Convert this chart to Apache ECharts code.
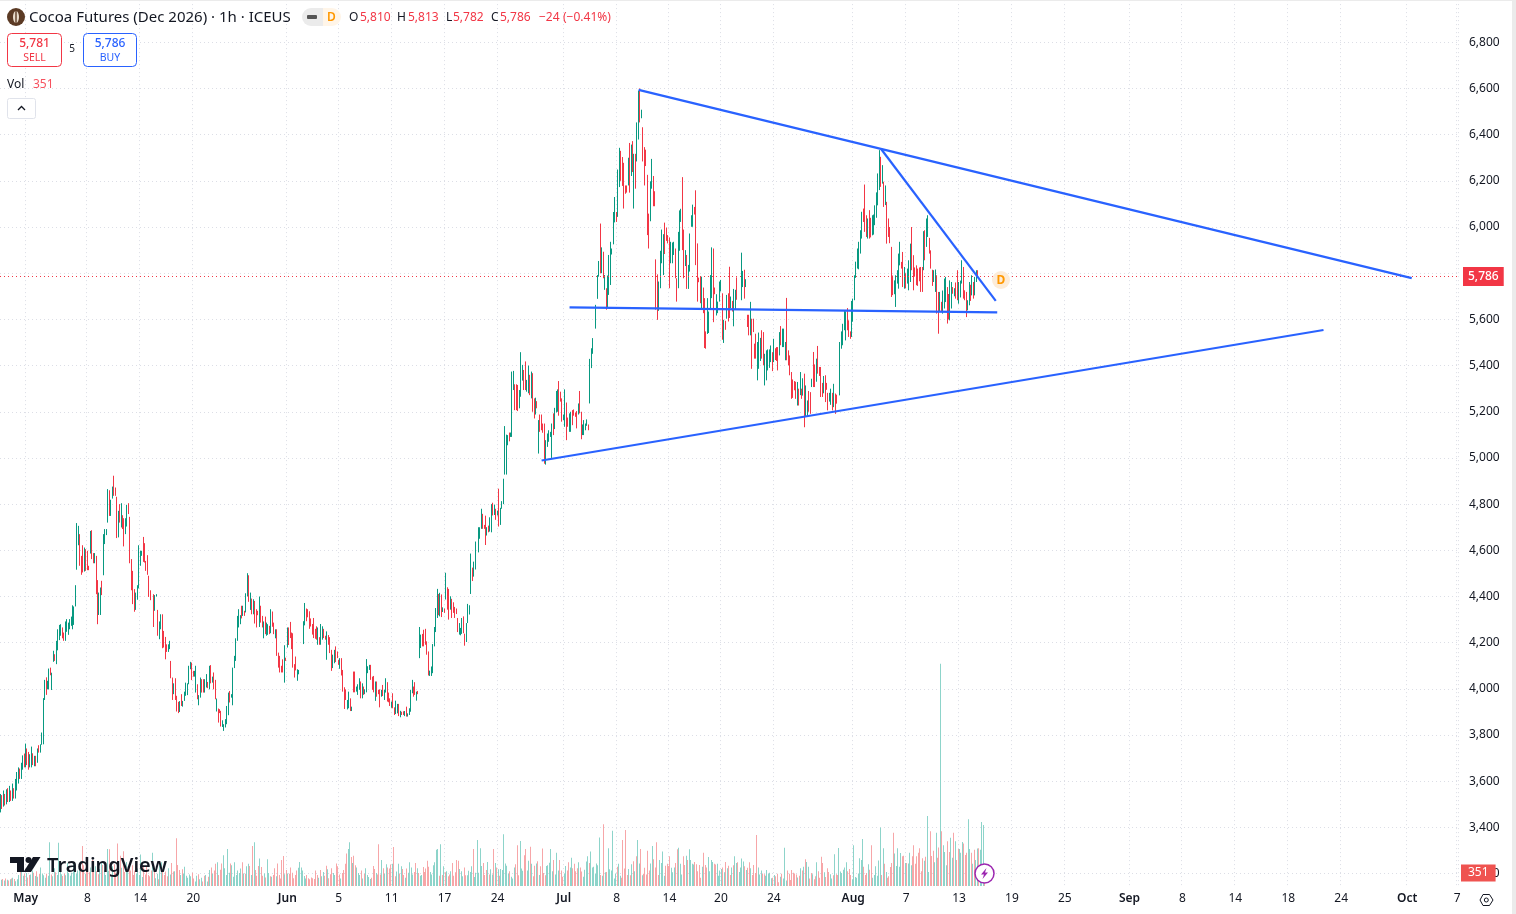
<!DOCTYPE html>
<html><head><meta charset="utf-8"><style>html,body{margin:0;padding:0;background:#fff}#c{width:1516px;height:914px}</style>
<script src="https://cdn.jsdelivr.net/npm/echarts@6/dist/echarts.min.js"></script></head><body><div id="c"></div>
<script>
// rows: [open, close, low, high]
const startBars=[[3480,3530,3465,3545],[3520,3490,3480,3540],[3500,3540,3490,3560],[3530,3505,3495,3545],[3510,3545,3500,3565],[3540,3520,3510,3570],[3520,3550,3510,3580],[3545,3525,3515,3560],[3525,3560,3515,3590],[3555,3530,3525,3570],[3535,3570,3525,3610],[3570,3600,3560,3640],[3600,3640,3590,3660],[3640,3620,3610,3655],[3625,3660,3610,3680]];
const mayA=[[3670,3700,3650,3712],[3710,3680,3660,3720],[3680,3745,3660,3763],[3730,3690,3670,3742],[3715,3670,3650,3727],[3670,3705,3660,3717],[3680,3735,3660,3750],[3715,3680,3670,3721],[3680,3700,3665,3710],[3700,3675,3665,3710],[3690,3730,3680,3742],[3750,3730,3724,3756],[3730,3755,3724,3760],[3765,3800,3758,3811],[3780,3945,3760,3960],[3965,4025,3952,4039],[4030,3990,3974,4050],[4005,4025,3998,4035],[4010,4075,3998,4088],[4085,4065,4059,4092],[4005,4060,3995,4070],[4125,4155,4117,4165],[4145,4128,4121,4150],[4120,4195,4107,4208],[4180,4245,4167,4258],[4225,4265,4211,4277],[4240,4270,4230,4280],[4258,4228,4219,4266],[4238,4215,4208,4244],[4220,4280,4208,4292],[4255,4295,4247,4302],[4245,4280,4234,4287],[4265,4295,4258,4302],[4280,4305,4273,4313],[4270,4350,4258,4362],[4290,4350,4277,4357],[4365,4440,4357,4449],[4540,4700,4516,4718],[4630,4695,4622,4706],[4650,4555,4533,4670],[4565,4505,4494,4576],[4610,4515,4504,4622],[4520,4600,4508,4612],[4595,4520,4511,4605],[4585,4525,4514,4598],[4530,4518,4514,4533],[4595,4675,4586,4684],[4680,4575,4562,4687],[4585,4550,4544,4588],[4550,4585,4544,4588],[4570,4420,4410,4576],[4460,4295,4280,4471],[4330,4410,4320,4417],[4330,4430,4320,4439],[4460,4415,4406,4468],[4500,4660,4492,4670],[4635,4685,4627,4692],[4670,4688,4666,4692],[4730,4855,4720,4865],[4850,4755,4749,4860],[4755,4810,4749,4819],[4830,4870,4824,4876],[4910,4845,4836,4923],[4865,4842,4836,4872],[4825,4665,4653,4832],[4665,4760,4656,4771],[4790,4730,4720,4800],[4710,4795,4699,4804],[4745,4700,4692,4752],[4730,4625,4617,4739],[4680,4730,4670,4739],[4712,4790,4703,4797],[4798,4765,4757,4804],[4735,4555,4544,4745],[4555,4435,4427,4562],[4500,4375,4367,4511],[4425,4342,4334,4432],[4350,4410,4342,4417],[4392,4442,4386,4449],[4445,4612,4435,4622],[4540,4590,4533,4598],[4580,4592,4576,4598],[4650,4560,4550,4658],[4625,4555,4547,4631],[4548,4518,4511,4554],[4570,4500,4494,4579],[4482,4405,4398,4490],[4420,4390,4384,4427]];
const mayB=[[4400,4278,4268,4410],[4346,4398,4338,4406],[4402,4408,4400,4410],[4335,4238,4230,4342],[4225,4285,4215,4292],[4268,4315,4258,4323],[4315,4185,4176,4323],[4245,4188,4179,4251],[4218,4136,4128,4225],[4188,4165,4160,4193],[4165,4188,4160,4193],[4178,4202,4172,4208],[4115,4052,4046,4121],[4042,3960,3952,4049],[3985,4016,3977,4024],[4040,3960,3952,4046],[3965,3908,3902,3970],[3938,3900,3895,3944],[3906,3940,3900,3947],[3970,3932,3926,3977],[3928,3943,3923,3948],[3955,3982,3948,3988],[3978,4020,3970,4027],[3980,4018,3973,4024],[4030,4092,4020,4100],[4092,4110,4085,4117],[4108,4046,4038,4114],[4072,4058,4053,4078],[4058,4072,4053,4078],[3994,4090,3984,4100],[4014,3962,3955,4020],[3935,3966,3929,3973],[3970,4042,3962,4049],[4035,3992,3984,4042],[4035,3990,3984,4042],[3992,4034,3984,4042],[4014,4056,4006,4064],[4025,4008,4003,4030],[4008,4092,3998,4100],[4096,4032,4024,4103],[4032,4048,4027,4053],[4064,4004,3998,4071],[4032,3962,3955,4039],[3908,3952,3902,3958],[3908,3860,3854,3915],[3908,3900,3895,3912],[3898,3844,3837,3905],[3840,3860,3835,3864],[3824,3842,3818,3847],[3838,3864,3833,3869],[3852,3920,3847,3926],[3892,3978,3886,3984],[3984,3948,3941,3991],[3965,3972,3962,3977],[3936,4085,3929,4092],[4096,4136,4090,4143],[4128,4212,4121,4219],[4214,4308,4208,4316],[4272,4338,4266,4345],[4286,4312,4280,4319],[4352,4312,4305,4360],[4322,4352,4316,4360],[4332,4322,4316,4338],[4338,4408,4331,4414],[4408,4494,4400,4501],[4486,4384,4377,4492],[4348,4410,4342,4417],[4385,4330,4323,4391],[4330,4382,4323,4388],[4375,4290,4283,4381],[4338,4272,4266,4345],[4332,4324,4319,4338],[4275,4392,4268,4400],[4354,4294,4287,4360],[4310,4272,4266,4316],[4226,4285,4219,4292],[4306,4244,4237,4313],[4236,4280,4230,4287],[4240,4278,4234,4280],[4267,4242,4237,4273],[4248,4338,4241,4345],[4328,4275,4269,4335],[4280,4242,4237,4287],[4225,4252,4219,4258],[4252,4150,4143,4258],[4150,4098,4092,4157],[4136,4078,4071,4143],[4094,4077,4071,4100],[4122,4078,4071,4128],[4034,4182,4027,4189],[4130,4126,4121,4135],[4186,4258,4179,4266],[4258,4200,4190,4266],[4270,4230,4220,4290],[4238,4180,4172,4244],[4234,4098,4092,4241],[4100,4055,4049,4107],[4120,4090,4080,4140],[4042,4078,4035,4085],[4068,4076,4063,4082]];
const junA=[[4200,4286,4194,4293],[4282,4365,4275,4372],[4342,4300,4293,4348],[4340,4318,4310,4345],[4330,4266,4260,4336],[4300,4275,4270,4305],[4275,4242,4235,4281],[4300,4228,4220,4307],[4255,4224,4217,4260],[4265,4220,4213,4271],[4198,4258,4191,4266],[4218,4198,4191,4224],[4198,4274,4191,4281],[4220,4265,4213,4271],[4254,4226,4220,4260],[4225,4218,4213,4230],[4132,4242,4126,4249],[4227,4197,4191,4233],[4218,4162,4155,4224],[4162,4085,4078,4169],[4096,4142,4090,4148],[4118,4162,4111,4169],[4178,4122,4116,4184],[4156,4140,4133,4162],[4120,4110,4104,4126],[4094,4127,4087,4133],[4127,4064,4058,4133],[4076,3994,3988,4082],[4000,3920,3913,4007],[3992,3958,3952,3998],[3918,3946,3911,3952],[3922,3982,3916,3988],[3952,3910,3904,3959],[3910,3918,3904,3923],[4068,3992,3985,4075],[4068,3992,3985,4075],[3994,4004,3988,4010],[3980,4014,3974,4020],[4002,4040,3996,4046],[4026,3965,3959,4032],[3965,4018,3959,4024],[4004,3980,3974,4010],[3982,3994,3977,3998],[3992,4122,3985,4129],[4074,4092,4068,4098],[4088,4098,4082,4104],[4098,4045,4039,4104],[4047,4002,3996,4053],[4050,3992,3985,4056],[3954,4026,3948,4032],[4026,3972,3966,4032],[3990,3982,3977,3996],[3990,3926,3920,3998],[3972,3990,3966,3996],[4010,3975,3969,4017],[3958,3990,3952,3996],[3990,4040,3984,4046],[4022,3952,3945,4029],[3978,3948,3942,3984],[3952,3932,3926,3959],[3924,3940,3918,3945],[3975,3922,3916,3981],[3914,3893,3887,3920],[3897,3943,3891,3949],[3900,3929,3894,3935],[3928,3888,3882,3935],[3883,3900,3877,3905],[3896,3892,3887,3901],[3898,3892,3887,3903],[3888,3898,3882,3904],[3916,3886,3880,3923],[3885,3890,3880,3894],[3892,3910,3887,3916],[3907,3990,3901,3996],[3987,4032,3981,4039],[4004,3972,3966,4010],[4022,3980,3974,4029],[3955,3982,3949,3988],[3986,3982,3977,3991]];
const junB=[[4139,4260,4133,4268],[4183,4228,4177,4235],[4230,4190,4184,4238],[4250,4190,4184,4256],[4254,4197,4191,4260],[4200,4154,4148,4206],[4156,4064,4058,4162],[4062,4073,4056,4079],[4062,4090,4056,4097],[4074,4188,4068,4194],[4190,4260,4184,4268],[4252,4344,4246,4350],[4313,4426,4307,4433],[4404,4325,4319,4411],[4320,4410,4314,4416],[4402,4317,4311,4409],[4339,4348,4333,4353],[4342,4336,4329,4348],[4393,4496,4387,4503],[4434,4349,4343,4440],[4426,4306,4300,4433],[4349,4395,4343,4401],[4384,4313,4307,4390],[4369,4335,4329,4375],[4349,4313,4307,4355],[4342,4330,4324,4348],[4301,4252,4246,4307],[4241,4279,4235,4285],[4238,4258,4232,4264],[4244,4300,4238,4307],[4308,4247,4241,4314],[4233,4193,4187,4239],[4209,4279,4203,4285],[4291,4362,4285,4368],[4328,4356,4322,4362],[4417,4580,4411,4586],[4519,4473,4467,4525],[4492,4545,4486,4551],[4523,4632,4517,4638]];
const julA=[[4597,4692,4591,4700],[4656,4694,4650,4700],[4699,4774,4693,4780],[4752,4699,4693,4758],[4705,4698,4693,4710],[4744,4629,4623,4750],[4670,4694,4664,4700],[4701,4684,4678,4707],[4687,4737,4681,4743],[4684,4794,4678,4800],[4800,4757,4751,4806],[4759,4792,4753,4798],[4774,4738,4732,4780],[4757,4766,4751,4772],[4861,4709,4703,4867],[4716,4778,4710,4784],[4786,4807,4780,4813],[4806,4904,4800,4910],[4934,5130,4928,5138],[4934,5095,4928,5101],[5061,5093,5055,5099],[5104,5078,5072,5110],[5097,5104,5091,5110],[5097,5368,5091,5374],[5300,5371,5294,5377],[5313,5213,5207,5319],[5313,5213,5207,5319],[5310,5209,5203,5316],[5221,5288,5215,5294],[5271,5452,5265,5458],[5341,5397,5335,5403],[5375,5300,5294,5381],[5412,5300,5294,5418],[5293,5332,5287,5338],[5286,5394,5280,5400],[5354,5278,5272,5360],[5264,5368,5258,5374],[5361,5206,5200,5367],[5252,5177,5171,5258],[5194,5255,5188,5261],[5240,5221,5215,5246],[5025,5158,5019,5164],[5182,5119,5113,5188],[5182,5126,5120,5188],[5143,5115,5109,5149],[5143,4981,4975,5149],[4977,5071,4971,5077],[5054,5100,5048,5106],[5076,5114,5070,5120],[5097,5107,5091,5113],[5006,5143,5000,5149],[5187,5105,5099,5193],[5131,5211,5125,5217],[5203,5284,5197,5290],[5206,5291,5200,5297],[5327,5189,5183,5333],[5281,5250,5244,5287],[5252,5163,5157,5258],[5170,5182,5164,5188],[5141,5291,5135,5297],[5234,5083,5077,5240],[5169,5141,5135,5175],[5119,5187,5113,5193],[5119,5194,5113,5200],[5201,5148,5142,5207],[5204,5189,5183,5210],[5191,5184,5178,5197],[5197,5134,5128,5203],[5194,5230,5188,5236],[5284,5199,5193,5290],[5194,5087,5081,5200],[5105,5139,5099,5145],[5105,5158,5099,5164],[5126,5143,5120,5149],[5145,5161,5139,5167],[5139,5126,5120,5145],[5242,5423,5236,5429],[5395,5469,5389,5475],[5457,5513,5451,5519]];
const julB=[[5566,5657,5560,5663],[5695,5786,5689,5792],[5791,5847,5785,5853],[6009,5806,5800,6015],[5806,5906,5800,5912],[5887,5784,5778,5893],[5734,5786,5728,5792],[5729,5648,5642,5735],[5680,5760,5650,5790],[5712,5873,5706,5879],[5755,5930,5749,5936],[5887,5901,5881,5907],[5931,6059,5925,6065],[6040,6100,6020,6130],[6059,6028,6022,6065],[6050,6243,6044,6249],[6179,6337,6173,6343],[6300,6240,6200,6330],[6297,6184,6178,6303],[6272,6086,6080,6278],[6174,6150,6144,6180],[6174,6155,6149,6180],[6200,6280,6180,6300],[6358,6155,6149,6364],[6227,6351,6221,6357],[6366,6244,6238,6372],[6086,6311,6080,6317],[6311,6172,6166,6317],[6290,6447,6284,6453],[6385,6584,6379,6590],[6594,6459,6453,6600],[6477,6502,6471,6508],[6426,6290,6284,6432],[6340,6186,6180,6346],[6329,6270,6264,6335],[6220,5971,5965,6226],[6052,5913,5907,6058],[6031,6192,6025,6198],[6172,6289,6166,6295],[6215,6096,6090,6221],[6150,6096,6090,6155]];
const julC=[[5854,5648,5642,5860],[5789,5604,5598,5795],[5643,5758,5637,5764],[5741,5891,5735,5897],[5849,5983,5843,5989],[5798,5963,5792,5969],[6013,5889,5883,6019],[5992,5946,5940,5998],[5959,5935,5929,5965],[5949,5741,5735,5955],[5849,5930,5843,5936],[5849,5927,5843,5933],[5885,5930,5879,5936],[5901,5784,5778,5907],[5772,5683,5677,5778],[5741,5973,5735,5979],[5903,6066,5897,6072],[6028,6073,6022,6079],[6210,5906,5900,6216],[5983,5784,5778,5989],[5837,5894,5831,5900],[5873,5738,5732,5879],[5738,5830,5732,5836],[5813,5966,5807,5972],[6007,6045,6001,6051],[6007,6091,6001,6097],[6081,6060,6054,6087],[6153,5841,5835,6159],[5923,5683,5677,5929],[5775,5767,5761,5781],[5779,5676,5670,5785],[5655,5779,5649,5785],[5732,5633,5627,5738],[5686,5482,5476,5692],[5542,5479,5473,5548],[5543,5686,5537,5692],[5547,5628,5541,5634],[5655,5786,5649,5792],[5698,5906,5692,5912],[5901,5594,5588,5907],[5732,5715,5709,5738],[5623,5703,5617,5709],[5633,5671,5627,5677],[5683,5758,5677,5764],[5727,5765,5721,5771],[5707,5518,5512,5713],[5504,5592,5498,5598],[5588,5561,5555,5594],[5609,5700,5603,5706],[5707,5597,5591,5713],[5822,5612,5606,5828],[5655,5693,5649,5699],[5674,5640,5634,5680],[5576,5726,5570,5732],[5648,5722,5642,5728],[5776,5691,5685,5782]];
const augA=[[5689,5883,5683,5889],[5745,5800,5740,5810],[5809,5696,5690,5815],[5746,5768,5740,5774],[5614,5573,5567,5620],[5614,5537,5531,5620],[5537,5670,5531,5676],[5597,5392,5386,5603],[5597,5551,5545,5603],[5489,5436,5430,5495],[5532,5436,5430,5538],[5342,5496,5336,5502],[5392,5537,5386,5543],[5440,5500,5420,5520],[5547,5436,5430,5553],[5539,5407,5401,5545],[5320,5445,5314,5451],[5342,5460,5336,5466],[5385,5464,5379,5470],[5400,5450,5390,5470],[5421,5481,5415,5487],[5452,5382,5376,5458],[5421,5510,5415,5516],[5470,5430,5424,5475],[5460,5430,5420,5480],[5474,5385,5379,5480],[5450,5539,5444,5545],[5565,5494,5488,5571],[5486,5554,5480,5560],[5500,5540,5480,5560],[5429,5496,5423,5502],[5687,5429,5423,5693],[5460,5407,5401,5466],[5438,5364,5358,5444],[5366,5262,5256,5372],[5310,5280,5260,5340],[5327,5299,5293,5333],[5325,5262,5256,5330],[5235,5323,5227,5329],[5294,5233,5227,5300],[5278,5366,5272,5372],[5294,5262,5256,5300],[5290,5330,5270,5345],[5359,5139,5133,5365],[5183,5308,5177,5314],[5187,5243,5181,5249],[5260,5230,5200,5290],[5279,5197,5191,5285],[5313,5337,5307,5343],[5453,5313,5307,5459],[5400,5313,5307,5405],[5350,5410,5330,5430],[5479,5371,5365,5485],[5388,5361,5355,5394],[5388,5270,5264,5394],[5320,5270,5264,5325],[5300,5340,5280,5355],[5352,5248,5242,5358],[5320,5300,5295,5325],[5276,5212,5206,5282],[5250,5276,5244,5282],[5260,5290,5230,5300],[5276,5212,5206,5282],[5226,5315,5220,5321],[5273,5197,5191,5279],[5268,5241,5235,5274]];
const augB=[[5277,5496,5271,5502],[5479,5542,5473,5548],[5494,5575,5488,5581],[5559,5633,5553,5639],[5515,5629,5509,5635],[5643,5559,5553,5649],[5590,5530,5524,5596],[5542,5522,5516,5548],[5530,5674,5524,5680],[5600,5660,5590,5690],[5689,5785,5683,5791],[5790,5840,5780,5850],[5826,5901,5820,5907],[5823,5930,5817,5936],[5891,5980,5885,5986],[5956,6060,5950,6066],[6074,6028,6022,6080],[6178,5985,5979,6184],[6045,5963,5957,6051],[5956,6031,5950,6037],[6067,5956,5950,6073],[6000,5965,5955,6040],[5970,6045,5964,6051],[5973,6048,5967,6054],[6014,6088,6008,6094],[6060,6130,6040,6150],[6100,6226,6094,6232],[6166,6327,6160,6333],[6298,6180,6174,6304],[6194,6262,6188,6268],[6190,6093,6087,6196],[6110,6160,6095,6180],[6103,5934,5928,6109],[6031,5963,5957,6037],[5980,5950,5930,6000],[5908,5703,5697,5914],[5760,5725,5705,5790],[5715,5763,5709,5769],[5660,5785,5654,5791],[5761,5807,5755,5813],[5739,5879,5733,5885],[5840,5930,5834,5936],[5843,5826,5820,5849],[5886,5746,5740,5892],[5739,5821,5733,5827],[5780,5750,5735,5800],[5760,5810,5755,5820],[5732,5850,5726,5856],[5768,5922,5762,5928],[5994,5819,5813,6000],[5872,5732,5726,5878],[5820,5790,5785,5825],[5828,5754,5748,5834],[5800,5760,5745,5820],[5820,5770,5765,5825],[5821,5725,5719,5827],[5821,5725,5719,5827],[5819,5976,5813,5982],[5980,5862,5856,5986],[5920,6031,5914,6037],[5963,6045,5957,6051],[5947,5891,5885,5953],[5893,5826,5820,5899],[5790,5760,5745,5815],[5768,5807,5762,5813],[5725,5810,5719,5816],[5785,5631,5625,5791],[5713,5544,5538,5719],[5638,5713,5632,5719],[5670,5638,5632,5676],[5640,5700,5625,5725],[5653,5771,5647,5777],[5681,5778,5675,5784],[5734,5588,5582,5740],[5680,5620,5600,5710],[5602,5763,5596,5769],[5653,5756,5647,5762],[5734,5717,5711,5740],[5705,5730,5700,5735],[5740,5700,5690,5760],[5807,5689,5683,5813],[5674,5756,5668,5762],[5700,5760,5695,5768],[5761,5850,5755,5856],[5821,5696,5690,5827],[5720,5689,5683,5726],[5713,5616,5610,5719],[5645,5677,5639,5683],[5667,5756,5661,5762],[5720,5690,5680,5750],[5710,5785,5704,5791],[5756,5696,5690,5762],[5710,5778,5704,5784],[5768,5807,5762,5813],[5810,5786,5782,5813]];
const barSegments=[[0,startBars],[15,mayA],[104,mayB],[206,junA],[285,junB],[325,julA],[405,julB],[446,julC],[504,augA],[571,augB]];
// volume per bar, 20 bars a line
const volumeBars=[
170,190,150,200,170,150,180,200,220,190,130,180,300,440,380,280,330,350,230,300,
310,420,360,270,400,250,330,500,340,290,220,330,280,1180,310,260,480,370,300,1170,
420,320,270,330,290,620,350,280,360,620,480,330,420,540,620,1080,560,330,780,440,
370,500,700,680,530,400,320,460,650,570,430,300,1000,410,990,300,530,590,360,1150,
600,820,490,940,380,650,430,520,420,560,300,420,330,470,300,850,240,560,310,530,
300,260,420,900,380,210,330,180,560,640,400,300,390,260,480,310,620,390,400,1290,
570,430,300,450,340,520,280,220,310,260,360,200,120,280,320,180,220,120,280,300,
120,250,430,500,330,420,600,640,300,440,610,830,480,300,1000,360,610,560,250,640,
300,420,350,470,640,340,330,530,600,540,300,1080,1180,430,280,540,740,510,280,340,
230,720,350,260,250,300,480,260,610,300,200,700,810,320,430,340,330,500,360,210,
300,420,490,650,500,420,270,200,300,210,180,230,210,190,420,300,220,430,260,380,
280,550,450,210,320,480,350,300,610,530,310,200,350,430,600,880,1000,1180,780,620,
820,560,500,350,300,420,200,330,480,300,240,190,220,540,460,350,310,1130,310,700,
480,330,590,500,470,580,600,1050,260,390,600,340,530,460,300,220,470,360,640,500,
310,380,620,480,350,280,300,510,380,470,680,520,380,310,560,640,980,1000,280,1130,
300,530,370,400,260,310,400,620,280,370,700,680,460,400,260,500,290,290,410,380,
530,1000,240,360,1240,360,1020,540,620,300,430,650,310,450,310,1000,620,500,450,280,
460,430,1400,610,550,330,400,250,200,500,590,1100,290,1215,470,410,830,1000,420,680,
1060,600,260,550,610,670,300,530,1010,350,290,540,560,630,1000,400,700,310,900,420,
700,420,250,330,540,420,640,500,760,480,600,400,480,640,500,390,250,440,660,800,
620,930,500,520,340,610,560,1310,300,280,1670,370,380,1020,450,420,1490,200,340,520,
600,280,220,1240,470,1510,300,460,290,590,670,400,800,1240,610,1000,290,330,490,310,
950,420,610,1080,720,500,1180,300,700,620,930,280,550,600,540,800,490,370,500,620,
990,1030,600,310,800,570,820,700,990,700,600,580,650,590,400,570,220,520,900,570,
500,780,400,700,650,600,580,600,280,420,460,500,370,650,480,550,300,500,560,800,
620,640,380,500,740,660,530,430,490,640,480,300,570,350,1380,500,310,420,340,320,
280,430,330,360,210,220,300,260,330,100,250,330,200,1035,150,420,330,160,430,360,
340,310,230,280,480,420,520,720,650,520,200,350,320,180,260,640,400,220,790,620,
370,240,480,380,320,200,290,860,320,300,1026,390,350,440,500,640,400,460,300,180,
1100,240,220,340,750,700,1270,520,300,350,590,440,1100,220,300,530,280,690,1580,300,
1020,600,380,220,260,510,620,1440,880,540,1020,520,890,800,820,620,620,610,900,560,
800,1100,600,800,900,1020,400,750,680,790,1890,380,1480,810,950,640,1440,760,1040,6000,
1480,1100,920,560,1210,920,1300,760,1440,1210,700,1000,1000,900,1190,1150,840,900,1800,1000,
900,600,980,700,1010,1020,980,1730,1650,351];
const tickBars=[17,59,95,131,195,230,266,302,338,383,419,455,490,526,580,616,652,688,724,768,804,840,876,912,957,991];
const tickLabels=['May','8','14','20','Jun','5','11','17','24','Jul','8','14','20','24','Aug','7','13','19','25','Sep','8','14','18','24','Oct','7'];
const trendLines=[[[434,6594],[960,5779]],[[599,6338],[677,5680]],[[387,5652],[678,5630]],[[368,4989],[900,5554]]];
const lastPrice=5786,lastVolume=351;
const slotCount=992;

const UP='#089981',DOWN='#f23645',BLUE='#2962ff',GRID='#dcdee6',TXT='#131722',FONT='"Noto Sans",sans-serif';
const VOL_UP='#8dd4ca',VOL_DOWN='#f7a6a8';
const slots=Array.from({length:slotCount},(_,i)=>String(i));
const candleRows=[];const dirAt={};
barSegments.forEach(([s,rows])=>rows.forEach((r,i)=>{candleRows.push([s+i,r[0],r[1],r[2],r[3]]);dirAt[s+i]=r[1]>=r[0];}));
const volumeRows=volumeBars.map((v,i)=>[i,v,(dirAt[i]===false||i===volumeBars.length-1)?0:1]);
const tickSet=new Set(tickBars);
const tickFn=i=>tickSet.has(i);
const labelFor=(v,i)=>{const k=tickBars.indexOf(i);return k<0?'':(/[A-Za-z]/.test(tickLabels[k])?'{m|'+tickLabels[k]+'}':tickLabels[k]);};
function T(text,x,y,color,size,extra){return {type:'text',z:30,style:Object.assign({text,x,y,fill:color,fontSize:size||12,fontFamily:FONT,textVerticalAlign:'middle'},extra||{})};}
const chart=echarts.init(document.getElementById('c'),null,{renderer:'canvas'});
chart.setOption({animation:false,backgroundColor:'#fff',
grid:[{left:0,width:1458,top:-3.9,height:923.7,outerBoundsMode:'none'},{left:0,width:1458,top:616,height:270,outerBoundsMode:'none'}],
xAxis:[
 {type:'category',gridIndex:0,data:slots,axisLine:{show:false},axisTick:{show:false},axisLabel:{show:false},splitLine:{show:true,interval:(i)=>tickFn(i),lineStyle:{color:GRID,type:[1,3]}},z:0},
 {type:'category',gridIndex:1,data:slots,axisLine:{show:false},axisTick:{show:false},z:8,
  axisLabel:{interval:0,hideOverlap:false,formatter:labelFor,color:TXT,fontFamily:FONT,fontSize:12,margin:7,rich:{m:{fontFamily:FONT,fontSize:12,fontWeight:600,color:TXT}}},splitLine:{show:false}}],
yAxis:[
 {type:'value',gridIndex:0,position:'right',min:3000,max:7000,interval:200,axisLine:{show:false},axisTick:{show:false},
  axisLabel:{margin:11,color:TXT,fontFamily:FONT,fontSize:12,lineHeight:14,formatter:v=>(v<=3000||v>=7000)?'':v.toLocaleString('en-US')},splitLine:{show:true,lineStyle:{color:GRID,type:[1,3]}}},
 {type:'value',gridIndex:1,min:0,max:7290,show:false}],
series:[
 {type:'custom',xAxisIndex:1,yAxisIndex:1,data:volumeRows,encode:{x:0,y:1},z:2,clip:false,silent:true,
  renderItem:(p,api)=>{const top=api.coord([api.value(0),api.value(1)]);const base=api.coord([api.value(0),0]);
   return {type:'rect',shape:{x:Math.round(top[0]),y:top[1],width:1,height:base[1]-top[1]},style:{fill:api.value(2)?VOL_UP:VOL_DOWN}};},
  markLine:{silent:true,symbol:'none',z:20,lineStyle:{color:'rgba(0,0,0,0)',width:0},data:[{yAxis:lastVolume,label:{show:true,position:'end',distance:3,formatter:String(lastVolume),color:'#fff',backgroundColor:'#ef5350',padding:[3,7,2,7],fontFamily:FONT,fontSize:12}}]}},
 {type:'candlestick',xAxisIndex:0,yAxisIndex:0,data:candleRows,encode:{x:0,y:[1,2,3,4]},barWidth:1,large:false,progressive:0,z:3,
  itemStyle:{color:UP,color0:DOWN,borderColor:UP,borderColor0:DOWN,borderWidth:1},
  markLine:{silent:true,symbol:'none',lineStyle:{color:DOWN,type:[1,3],width:1},data:[{yAxis:lastPrice,label:{show:true,position:'end',distance:5,formatter:lastPrice.toLocaleString('en-US'),color:'#fff',backgroundColor:DOWN,padding:[4,5,3,5],fontFamily:FONT,fontSize:12,fontWeight:500}}]}},
 ...trendLines.map(l=>({type:'line',xAxisIndex:0,yAxisIndex:0,data:l,showSymbol:false,lineStyle:{color:BLUE,width:2.2},z:6}))
],
graphic:{elements:[
 {type:'rect',z:5,shape:{x:0,y:887,width:1516,height:27},style:{fill:'#fff'}},
 {type:'rect',z:40,shape:{x:1512,y:0,width:4,height:914},style:{fill:'#ebebeb'}},
 {type:'rect',z:40,shape:{x:0,y:0,width:1516,height:1},style:{fill:'#ebebeb'}},
 {type:'circle',z:30,shape:{cx:16,cy:17,r:9},style:{fill:'#5b3a24'}},
 {type:'ellipse',z:31,shape:{cx:16,cy:17,rx:3,ry:6},style:{fill:'#e9dccb'}},
 {type:'rect',z:32,shape:{x:15.3,y:11,width:1.4,height:12},style:{fill:'#5b3a24'}},
 T('Cocoa Futures (Dec 2026) · 1h · ICEUS',29,18,TXT,15),
 {type:'rect',z:30,shape:{x:302,y:8,width:21,height:18,r:[9,0,0,9]},style:{fill:'#ebebeb'}},
 {type:'rect',z:31,shape:{x:307,y:15,width:10,height:4,r:1},style:{fill:'#555'}},
 {type:'rect',z:30,shape:{x:323,y:8,width:18,height:18,r:[0,9,9,0]},style:{fill:'#fff5e8'}},
 T('D',327,18,'#ff9800',12,{fontWeight:600}),
 T('O',349,18,TXT,12),T('5,810',360,18,DOWN,12),
 T('H',397,18,TXT,12),T('5,813',408,18,DOWN,12),
 T('L',446,18,TXT,12),T('5,782',453,18,DOWN,12),
 T('C',491,18,TXT,12),T('5,786',500,18,DOWN,12),
 T('−24',539,18,DOWN,12),T('(−0.41%)',563,18,DOWN,12),
 {type:'rect',z:30,shape:{x:7.5,y:33.5,width:54,height:33,r:4},style:{fill:'#fff',stroke:DOWN,lineWidth:1}},
 T('5,781',34.5,44,DOWN,12,{textAlign:'center',fontWeight:500}),T('SELL',34.5,58,DOWN,10.5,{textAlign:'center'}),
 T('5',72,49.5,TXT,10,{textAlign:'center'}),
 {type:'rect',z:30,shape:{x:83.5,y:33.5,width:53,height:33,r:4},style:{fill:'#fff',stroke:BLUE,lineWidth:1}},
 T('5,786',110,44,BLUE,12,{textAlign:'center',fontWeight:500}),T('BUY',110,58,BLUE,10.5,{textAlign:'center'}),
 T('Vol',7,85,TXT,12),T('351',33,85,'#f7525f',12),
 {type:'rect',z:30,shape:{x:7.5,y:98.5,width:28,height:20,r:2},style:{fill:'#fff',stroke:'#e0e3eb',lineWidth:1}},
 {type:'polyline',z:31,shape:{points:[[18,110],[21.5,106.5],[25,110]]},style:{stroke:TXT,fill:'none',lineWidth:1.3}},
 {type:'rect',z:9,shape:{x:10,y:857,width:14,height:6},style:{fill:TXT}},
 {type:'rect',z:9,shape:{x:17,y:857,width:7,height:15},style:{fill:TXT}},
 {type:'circle',z:9,shape:{cx:28.5,cy:860,r:3},style:{fill:TXT}},
 {type:'polygon',z:9,shape:{points:[[33,857],[40.5,857],[31,872],[23.5,872]]},style:{fill:TXT}},
 Object.assign(T('TradingView',47,866,TXT,20,{fontWeight:600}),{z:9}),
 {type:'circle',z:30,shape:{cx:1001,cy:280,r:9},style:{fill:'#fdecd8'}},
 T('D',1001,280.5,'#ff9800',12,{textAlign:'center',fontWeight:700}),
 {type:'circle',z:30,shape:{cx:984.5,cy:873.5,r:9.5},style:{fill:'#fff',stroke:'#9c27b0',lineWidth:1.5}},
 {type:'polygon',z:31,shape:{points:[[986.5,868],[981,874.5],[984,874.5],[982.5,879],[988,872.5],[985,872.5]]},style:{fill:'#9c27b0'}},
 {type:'polygon',z:30,shape:{points:[[1480,900],[1483,894.5],[1489.5,894.5],[1493,900],[1489.5,905.5],[1483,905.5]]},style:{fill:'#fff',stroke:TXT,lineWidth:1}},
 {type:'circle',z:31,shape:{cx:1486.3,cy:900,r:2},style:{fill:'#fff',stroke:TXT,lineWidth:1}}
]}
});
</script></body></html>
